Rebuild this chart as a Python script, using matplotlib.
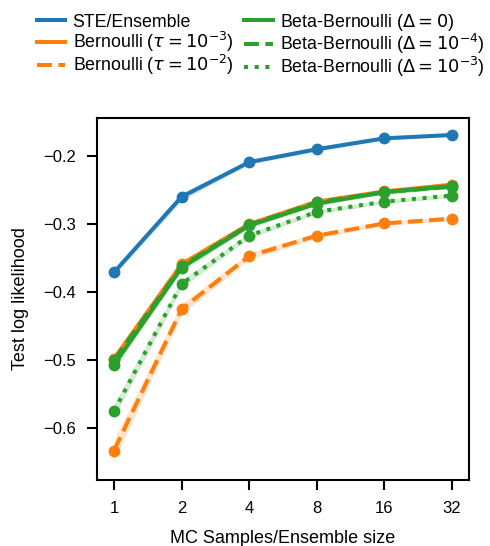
import matplotlib
matplotlib.use("Agg")
import matplotlib.pyplot as plt
from matplotlib.lines import Line2D
import numpy as np

plt.rcParams['font.family'] = ['Liberation Sans', 'DejaVu Sans']
plt.rcParams['mathtext.fontset'] = 'dejavusans'

samples = [1, 2, 4, 8, 16, 32]
tick_labels = ['1', '2', '4', '8', '16', '32']

ste = [-0.371, -0.260, -0.209, -0.190, -0.174, -0.169]
ste_err = [0.004, 0.006, 0.003, 0.003, 0.002, 0.002]

bern_1e3 = [-0.498, -0.359, -0.300, -0.267, -0.252, -0.242]
bern_1e3_err = [0.006, 0.006, 0.004, 0.003, 0.003, 0.003]

bern_1e2 = [-0.633, -0.425, -0.347, -0.317, -0.299, -0.292]
bern_1e2_err = [0.016, 0.008, 0.005, 0.004, 0.003, 0.003]

beta_0 = [-0.507, -0.364, -0.302, -0.270, -0.253, -0.244]
beta_0_err = [0.006, 0.005, 0.004, 0.003, 0.003, 0.003]

beta_1e4 = [-0.500, -0.362, -0.301, -0.268, -0.253, -0.245]
beta_1e4_err = [0.006, 0.005, 0.004, 0.003, 0.003, 0.003]

beta_1e3 = [-0.575, -0.388, -0.317, -0.282, -0.267, -0.258]
beta_1e3_err = [0.010, 0.006, 0.004, 0.003, 0.003, 0.003]

blue, orange, green = '#1f77b4', '#ff7f0e', '#2ca02c'

series = [
    ('STE/Ensemble', ste, ste_err, blue, '-'),
    (r'Bernoulli ($\tau = 10^{-3}$)', bern_1e3, bern_1e3_err, orange, '-'),
    (r'Bernoulli ($\tau = 10^{-2}$)', bern_1e2, bern_1e2_err, orange, '--'),
    (r'Beta-Bernoulli ($\Delta = 0$)', beta_0, beta_0_err, green, '-'),
    (r'Beta-Bernoulli ($\Delta = 10^{-4}$)', beta_1e4, beta_1e4_err, green, '--'),
    (r'Beta-Bernoulli ($\Delta = 10^{-3}$)', beta_1e3, beta_1e3_err, green, ':'),
]

fig = plt.figure(figsize=(4.9, 5.46), dpi=100)
ax = fig.add_axes([0.198, 0.121, 0.759, 0.663])

handles = []
for label, vals, err, color, ls in series:
    v = np.array(vals)
    e = np.array(err)
    ax.fill_between(samples, v - e, v + e, color=color, alpha=0.2, linewidth=0)
    ax.plot(samples, v, color=color, linestyle=ls, linewidth=2.9,
            marker='o', markersize=7.5)
    handles.append(Line2D([], [], color=color, linestyle=ls, linewidth=2.9,
                          label=label))

ax.set_xscale('log', base=2)
ax.set_xticks(samples)
ax.set_xticklabels(tick_labels)
ax.minorticks_off()
ax.set_ylim(-0.676, -0.144)
ax.set_yticks([-0.6, -0.5, -0.4, -0.3, -0.2])
ax.set_yticklabels(['\u22120.6', '\u22120.5', '\u22120.4', '\u22120.3', '\u22120.2'])

for s in ax.spines.values():
    s.set_linewidth(1.5)
ax.tick_params(axis='both', labelsize=12, width=1.5, length=7, pad=8)

ax.set_xlabel('MC Samples/Ensemble size', fontsize=13, labelpad=10)
ax.set_ylabel('Test log likelihood', fontsize=13, labelpad=10)

fig.legend(handles=handles, loc='upper center', bbox_to_anchor=(0.532, 1.008),
           ncol=2, frameon=False, fontsize=12.8, handlelength=1.6,
           columnspacing=0.6, labelspacing=-0.05, handletextpad=0.4)

fig.savefig('out.png', dpi=100)
